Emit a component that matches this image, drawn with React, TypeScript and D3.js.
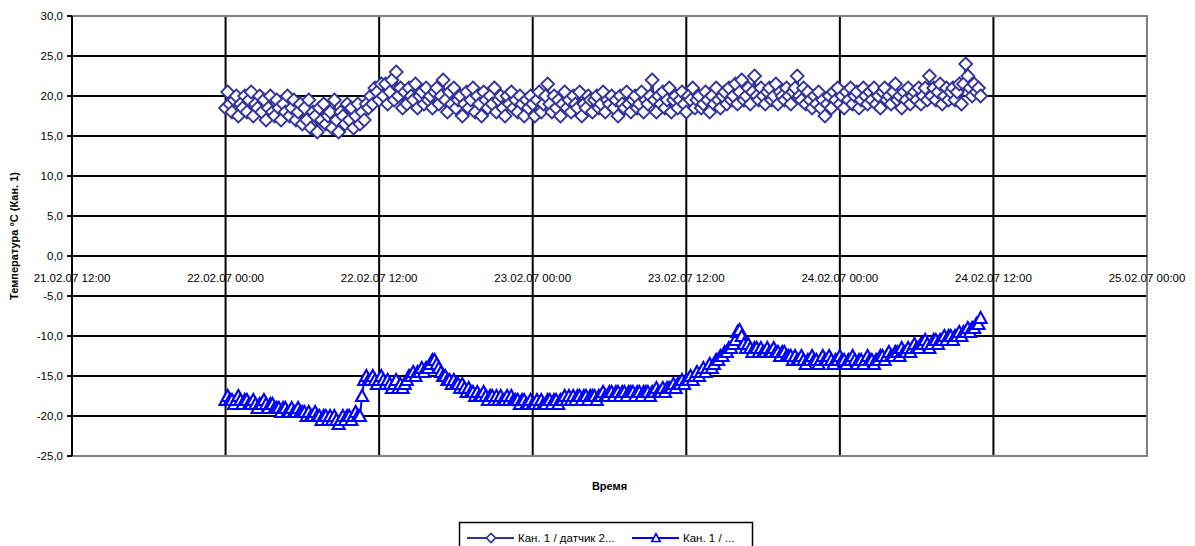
import * as d3 from 'd3';

// sampling of the logger: first reading and step between readings
const START = new Date(2007, 1, 22, 0, 0);
const STEP_MIN = 10;

// Кан. 1 / датчик 2 (diamonds)
const sensor2: number[] = [
  18.5, 20.5, 19, 18, 19.5, 20, 17.5, 19, 18.5, 20,
  18, 19.5, 20.5, 17.5, 19, 18.5, 20, 18,
  19.5, 17, 18.5, 20, 18, 17.5, 19.5, 18.5, 17, 19,
  18, 20, 17.5, 18.5, 19.5, 17, 18, 19,
  16.5, 18.5, 17, 19.5, 16, 18, 17.5, 15.5, 18.5, 17,
  19, 16.5, 17.5, 18, 16, 19.5, 17, 15.5, 18, 17.5,
  16.5, 19, 17, 18.5, 16, 17.5, 19, 16.5,
  18, 17, 19, 18.5, 20, 19, 21, 20.5, 19.5, 21.5,
  20, 21.5, 19, 20.5, 22, 19.5, 23, 20, 21, 18.5,
  20.5, 19, 21, 20, 19.5, 21.5, 18.5, 20, 20.5, 19,
  21, 19.5, 20, 18.5, 20.5, 21, 19, 20,
  22,
  19.5, 18, 20.5, 19, 21, 18.5, 19.5, 20, 17.5, 19,
  20.5, 18.5, 19.5, 21, 18, 20, 19, 17.5, 20.5, 19.5,
  18.5, 20, 19, 21, 18, 19.5, 20, 18.5, 17.5, 20,
  19, 20.5, 18.5, 19.5, 18, 20, 19, 17.5, 19.5,
  18.5, 20, 19, 17.5, 19.5, 20.5, 18, 19, 20, 21.5,
  19, 18, 20, 18.5, 19.5, 17.5, 19, 20.5, 18.5, 19.5,
  18, 20, 19, 18.5, 20.5, 17.5, 19, 18.5, 20, 19.5,
  18, 19.5, 20, 18.5, 19,
  20.5, 18, 19.5, 19, 20, 18.5, 19.5, 17.5, 20, 19,
  18.5, 20.5, 19, 18, 19.5, 20, 18.5, 19, 20.5, 18, 19.5, 19, 20,
  22,
  19.5, 18, 20, 19, 20.5, 18.5, 19.5, 21, 18, 19.5,
  20, 18.5, 19.5, 20.5, 19, 18, 20, 19.5, 21, 18.5,
  19.5, 20, 18.5, 19, 20.5, 19.5, 18, 20, 19, 21, 19.5, 18.5, 20,
  20.5, 19, 21, 19.5, 20, 21.5, 19, 20.5, 22, 19.5,
  20, 21, 19, 20.5,
  22.5,
  20, 19.5, 21, 20, 19, 20.5, 21, 19.5, 20, 21.5,
  19, 20.5, 20, 19.5, 21, 20, 19, 20.5, 21,
  22.5,
  20, 19.5, 21, 19, 20.5, 19.5, 18.5, 20, 19, 20.5, 18.5, 19.5,
  17.5,
  19,
  20, 18.5, 20.5, 19.5, 21, 19, 20, 18.5, 20.5, 19.5,
  21, 19, 20, 20.5, 18.5, 19.5, 21, 20, 19, 20.5,
  19.5, 21, 19, 20, 18.5, 20.5, 21, 19.5, 20, 19,
  20.5, 21.5, 19.5, 20, 18.5, 20.5, 19.5, 21, 19, 20,
  20.5, 19.5, 21, 19, 20, 21, 19.5,
  22.5,
  20, 21, 19.5, 20.5, 21.5, 19, 20, 21, 19.5, 20.5,
  21, 19.5, 20.5, 21.5, 19, 21.5,
  24, 22.5, 21, 20, 21.5, 20.5, 21, 20,
];

// Кан. 1 / ... (triangles)
const sensor1: number[] = [
  -18, -17.5, -18, -18, -18.5, -18, -17.5, -18, -18.5, -18, -18, -18.5,
  -18.5, -18, -18.5, -19, -18.5, -18.5, -18, -18.5, -19, -18.5, -18.5, -19,
  -19, -19, -19.5, -19, -19, -19.5, -19.5, -19, -19.5, -19.5, -19, -19.5, -19.5,
  -19.5, -20, -19.5, -20, -20, -19.5, -20, -20, -20.5, -20, -20, -20.5,
  -20, -20.5, -20, -20.5, -21, -20.5, -20, -20.5, -20, -20, -20.5, -20, -19.5, -20,
  -20, -17.5,
  -15.5, -15, -15.5, -15.5, -15, -15.5, -16, -15.5, -15, -15.5, -16, -15.5,
  -16, -16.5, -16, -15.5, -16.5, -16, -16.5, -16,
  -15.5, -15, -15, -14.5, -15, -14.5, -14.5, -14, -14.5, -14, -14,
  -13.5, -13, -13, -13.5,
  -14, -14.5, -15, -15, -15.5, -15.5, -16, -15.5, -16, -16, -16.5, -16, -16.5,
  -17, -16.5, -17, -17, -17.5, -17, -17.5, -17.5, -17, -17.5, -18, -17.5, -17.5, -18, -17.5, -18, -17.5, -18, -18, -17.5, -18, -17.5, -18,
  -18, -18, -18.5, -18, -18, -18.5, -18.5, -18, -18.5, -18.5, -18, -18.5, -18, -18.5, -18.5, -18, -18, -18.5, -18, -18, -18.5, -18, -18, -17.5, -18,
  -17.5, -18, -17.5, -18, -17.5, -17.5, -18, -17.5, -17.5, -18, -17.5, -17.5, -17.5, -18, -17.5, -17.5, -17, -17.5, -17.5, -17,
  -17, -17.5, -17, -17, -17.5, -17, -17, -17.5, -17, -17, -17, -17.5, -17, -17, -17.5, -17, -17, -17, -17.5, -17, -17, -16.5, -17, -17, -16.5, -17, -16.5,
  -16.5, -16.5, -16, -16.5, -16, -16, -15.5, -16, -15.5,
  -15.5, -15, -15.5, -15, -14.5, -15, -14.5, -14, -14.5, -14, -13.5, -14, -13.5, -13, -13, -12.5, -12.5, -12, -12, -11.5, -11.5, -11,
  -10.5, -9.5, -9.25, -10,
  -11, -11.5, -11, -11.5, -12, -11.5, -11.5, -12, -11.5, -12, -12, -11.5, -12, -12, -11.5, -12, -12, -12.5, -12, -12, -12.5, -12.5,
  -12.5, -13, -12.5, -13, -13, -12.5, -13, -13.5, -13, -13, -12.5, -13, -13, -13.5, -13, -12.5, -13, -13, -12.5, -13, -13.5, -13,
  -13, -12.5, -13, -13, -13.5, -13, -13, -12.5, -13, -13.5, -13, -13, -13.5, -13, -12.5, -13, -13, -13.5, -13, -13, -12.5,
  -12.5, -13, -12.5, -12, -12.5, -12.5, -12, -12, -12.5, -11.5, -12, -12, -11.5, -12, -11.5,
  -11, -11.5, -11.5, -11, -11, -10.5, -11, -11.5, -11, -10.5, -10.5, -11, -10.5, -10.5, -10, -10.5, -10, -10, -10.5,
  -10, -10, -9.5, -10, -9.5, -9.5, -9, -9.5, -9, -9, -8.5, -8.5, -7.75,
];

const yTicks = [30, 25, 20, 15, 10, 5, 0, -5, -10, -15, -20, -25];
const xDomain = [new Date(2007, 1, 21, 12, 0), new Date(2007, 1, 25, 0, 0)];
const seriesNames = ['Кан. 1 / датчик 2...', 'Кан. 1 / ...'];
const colors = ['#333399', '#0000ff'];

const W = 1195;
const H = 546;
const plot = { left: 72, right: 1147, top: 16, bottom: 456 };
const FONT = 'Liberation Sans, Arial, sans-serif';

const timeOf = (i: number) => new Date(START.getTime() + i * STEP_MIN * 60000);

const diamond = 'M0,-6.5L6.5,0L0,6.5L-6.5,0Z';
const triangle = 'M0,-6L6,5L-6,5Z';

export default function App() {
  const x = d3.scaleTime().domain(xDomain).range([plot.left, plot.right]);
  const y = d3.scaleLinear().domain([-25, 30]).range([plot.bottom, plot.top]);
  const xTicks = d3.timeHour.every(12)!.range(xDomain[0], d3.timeMinute.offset(xDomain[1], 1));
  const fmtX = d3.timeFormat('%d.%m.%y %H:%M');
  const fmtY = (v: number) => v.toFixed(1).replace('.', ',');

  const line = d3
    .line<number>()
    .x((_, i) => x(timeOf(i)))
    .y((d) => y(d));

  const series = [
    { values: sensor2, marker: diamond, color: colors[0], sw: 1.8 },
    { values: sensor1, marker: triangle, color: colors[1], sw: 2.1 },
  ];

  return (
    <div style={{ position: 'absolute', left: 0, top: 0 }}>
      <svg width={W} height={H} style={{ display: 'block', background: '#fff' }} fontFamily={FONT}>
        {/* grid */}
        {yTicks.map((t) => (
          <line key={'gy' + t} x1={plot.left - 5} x2={plot.right} y1={y(t)} y2={y(t)} stroke="#000" strokeWidth={2} />
        ))}
        {xTicks.map((t) => (
          <line key={'gx' + t.getTime()} x1={x(t)} x2={x(t)} y1={plot.top} y2={plot.bottom} stroke="#000" strokeWidth={2} />
        ))}
        {/* plot frame */}
        <path
          d={`M${plot.left},${plot.top}H${plot.right}V${plot.bottom}H${plot.left}`}
          fill="none"
          stroke="#808080"
          strokeWidth={2}
        />
        <line x1={plot.left} x2={plot.left} y1={plot.top} y2={plot.bottom} stroke="#000" strokeWidth={2} />
        <line x1={plot.left} x2={plot.right} y1={y(0)} y2={y(0)} stroke="#000" strokeWidth={2} />

        {/* y tick labels */}
        {yTicks.map((t) => (
          <text key={'ly' + t} x={plot.left - 9} y={y(t) + 4} fontSize={11.5} textAnchor="end" fill="#000">
            {fmtY(t)}
          </text>
        ))}
        {/* x tick labels */}
        {xTicks.map((t) => (
          <text key={'lx' + t.getTime()} x={x(t)} y={y(0) + 26} fontSize={11.5} textAnchor="middle" fill="#000">
            {fmtX(t)}
          </text>
        ))}

        {/* series */}
        {series.map((s, si) => (
          <g key={'s' + si}>
            <path d={line(s.values) || ''} fill="none" stroke={s.color} strokeWidth={2} />
            {s.values.map((v, i) => (
              <path
                key={i}
                d={s.marker}
                transform={`translate(${x(timeOf(i))},${y(v)})`}
                fill="#fff"
                stroke={s.color}
                strokeWidth={s.sw}
              />
            ))}
          </g>
        ))}

        {/* axis titles */}
        <text
          transform={`translate(18,${(plot.top + plot.bottom) / 2}) rotate(-90)`}
          fontSize={11}
          fontWeight="bold"
          textAnchor="middle"
          fill="#000"
        >
          Температура °C (Кан. 1)
        </text>
        <text x={(plot.left + plot.right) / 2} y={490} fontSize={11} fontWeight="bold" textAnchor="middle" fill="#000">
          Время
        </text>

        {/* legend */}
        <rect x={459.5} y={522.5} width={293} height={40} fill="#fff" stroke="#000" strokeWidth={1.5} />
        {series.map((s, si) => {
          const lx = si === 0 ? 467 : 632;
          return (
            <g key={'lg' + si}>
              <line x1={lx} x2={lx + 47} y1={538} y2={538} stroke={s.color} strokeWidth={2} />
              <path
                d={s.marker}
                transform={`translate(${lx + 24},538) scale(0.7)`}
                fill="#fff"
                stroke={s.color}
                strokeWidth={2.4}
              />
              <text x={lx + 51} y={542} fontSize={11.5} fill="#000">
                {seriesNames[si]}
              </text>
            </g>
          );
        })}
      </svg>
    </div>
  );
}
